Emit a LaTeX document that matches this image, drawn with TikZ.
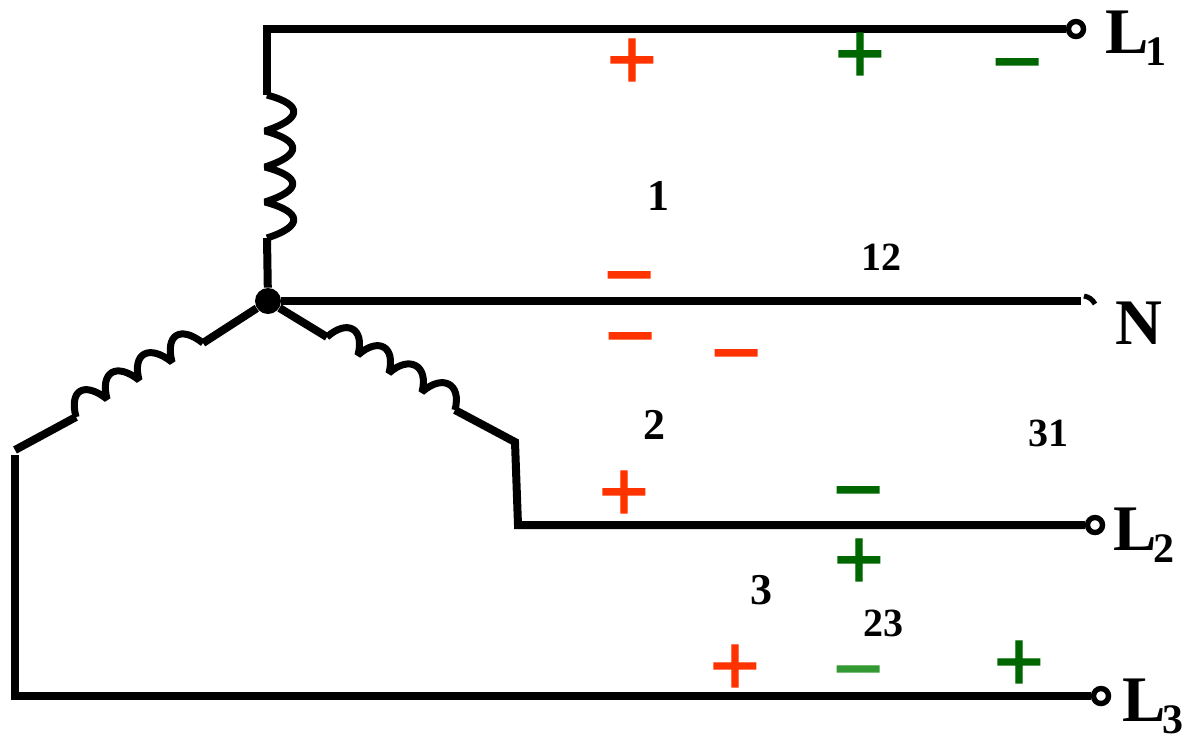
\documentclass[tikz,border=0pt]{standalone}
\usepackage{fontspec}
\setmainfont{Liberation Serif}
\newfontfamily\signfont[FakeBold=1.4]{Liberation Sans}
\usetikzlibrary{positioning}
\definecolor{phase}{RGB}{255,51,0}
\definecolor{line}{RGB}{0,102,0}
\definecolor{linelight}{RGB}{51,153,51}
\tikzset{
	% wire
	cstwire/.style    ={line width=4pt},
	cstcoil/.style    ={line width=3.5pt,line join=bevel},
	% terminal
	cstterm/.style    ={circle,draw=black,fill=white,line width=2.7pt,minimum size=7.5pt,inner sep=0pt},
	cstdot/.style     ={circle,fill=black,minimum size=13pt,inner sep=0pt},
	% text
	cstname/.style    ={inner sep=0pt,font=\fontsize{32.5}{32.5}\selectfont\bfseries},
	cstnum/.style     ={inner sep=0pt,font=\fontsize{22}{22}\selectfont\bfseries},
	cstnums/.style    ={inner sep=0pt,font=\fontsize{20}{20}\selectfont\bfseries},
	cstsign/.style    ={inner sep=0pt,text height=30.5pt,text depth=0pt,font=\fontsize{43}{43}\selectfont\signfont}
}
\newcommand{\subnum}[1]{\kern-1.5pt\raisebox{-6pt}{\fontsize{21}{21}\selectfont #1}}
\begin{document}
\begin{tikzpicture}[x=.5pt,y=-.5pt]
	\useasboundingbox (0,0) rectangle (1185,735);
	% star point and terminals
	\node[cstdot] (S) at (268,301) {};
	\node[cstterm] (T1) at (1076,29) {};
	\node[cstterm] (T2) at (1095,525) {};
	\node[cstterm] (T3) at (1101,696) {};
	\coordinate (TN) at (1081,301);
	\coordinate (C1) at (267,29);
	\coordinate (A1) at (267,95);
	\coordinate (B1) at (267,238);
	\coordinate (A2) at (327,337);
	\coordinate (B2) at (455,410);
	\coordinate (K2) at (515,442);
	\coordinate (C2) at (518,525);
	\coordinate (A3) at (203,343);
	\coordinate (B3) at (76,417);
	\coordinate (K3) at (15,450);
	\coordinate (J3) at (15,455);
	\coordinate (C3) at (15,696);
	% wires
	\draw[cstwire] (T1)--(C1)--(A1);
	\draw[cstwire] (B1)--(S);
	\draw[cstwire] (S)--(TN);
	\draw[cstwire] (S)--(A2);
	\draw[cstwire] (B2)--(K2)--(C2)--(T2);
	\draw[cstwire] (S)--(A3);
	\draw[cstwire] (B3)--(K3);
	\draw[cstwire] (J3)--(C3)--(T3);
	\draw[line width=2.5pt] (1084,296) to [bend left=25] (1095,304);
	% coils
	\draw[cstcoil] (A1) \foreach \y in {131,167,202}{ .. controls +(37,10) and +(37,-12) .. (265,\y)} .. controls +(37,10) and +(37,-12) .. (B1);
	\draw[cstcoil] (A2) \foreach \x/\y in {358/355,389/373,422/392}{ .. controls +(20,-18) and +(7,-27) .. (\x,\y)} .. controls +(20,-18) and +(7,-27) .. (B2);
	\draw[cstcoil] (A3) \foreach \x/\y in {172/362,139/380,107/399}{ .. controls +(-23,-18) and +(-7,-27) .. (\x,\y)} .. controls +(-23,-18) and +(-7,-27) .. (B3);
	% labels
	\node[cstname,anchor=base west] (L1) at (1105,53) {L\subnum{1}};
	\node[cstname,anchor=base west] (L2) at (1113,550) {L\subnum{2}};
	\node[cstname,anchor=base west] (L3) at (1122,721) {L\subnum{3}};
	\node[cstname,anchor=base west] (N) at (1115,344) {N};
	\node[cstnum] (n1) at (658,196) {1};
	\node[cstnum] (n2) at (654,425) {2};
	\node[cstnum] (n3) at (761,590) {3};
	\node[cstnums] (n12) at (881,257) {12};
	\node[cstnums] (n23) at (883,623) {23};
	\node[cstnums] (n31) at (1048,433) {31};
	% signs
	\node[cstsign,phase] (p1) at (632,58) {+};
	\node[cstsign,line] (p2) at (860,52) {+};
	\node[cstsign,line] (p3) at (1017,60) {−};
	\node[cstsign,phase] (p4) at (629,273) {−};
	\node[cstsign,phase] (p5) at (630,334) {−};
	\node[cstsign,phase] (p6) at (736,351) {−};
	\node[cstsign,phase] (p7) at (624,490) {+};
	\node[cstsign,line] (p8) at (858,488) {−};
	\node[cstsign,line] (p9) at (859,558) {+};
	\node[cstsign,phase] (p10) at (735,664) {+};
	\node[cstsign,linelight] (p11) at (858,667) {−};
	\node[cstsign,line] (p12) at (1019,660) {+};
\end{tikzpicture}
\end{document}
